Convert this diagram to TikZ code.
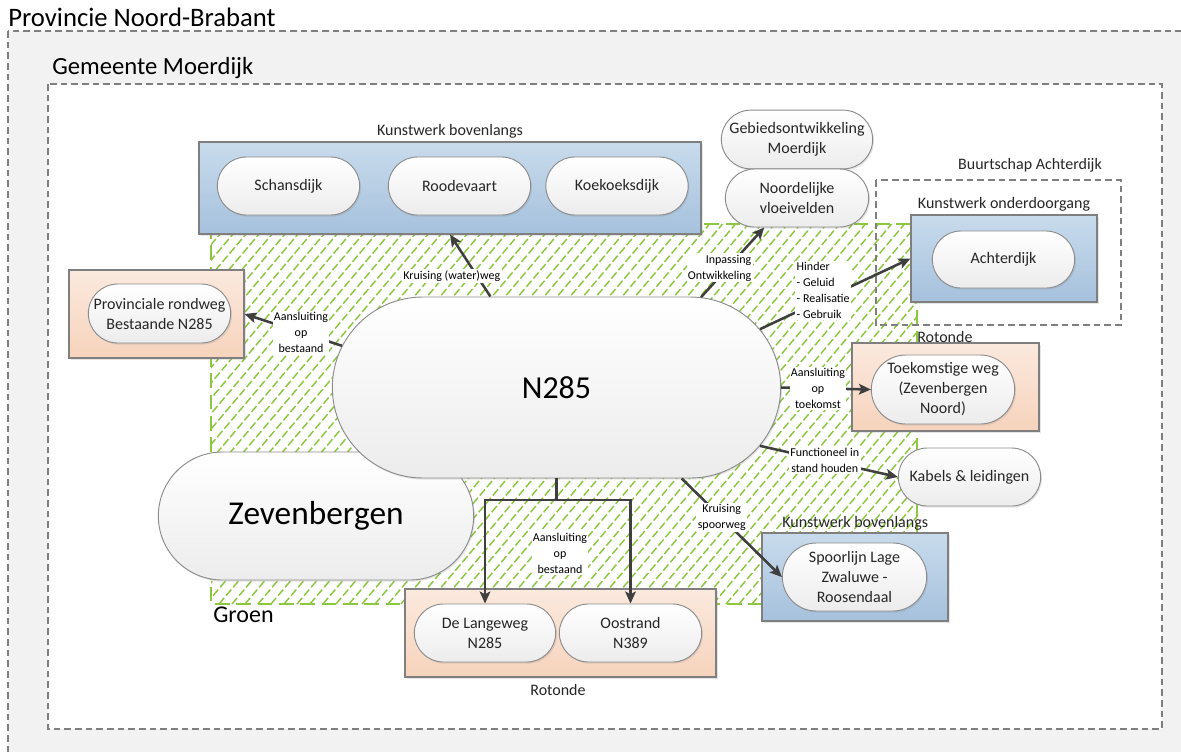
\documentclass[tikz,border=0pt]{standalone}
\usepackage{fontspec}
\setmainfont{Carlito}
\usetikzlibrary{shapes.misc,arrows.meta,shadows}
\definecolor{provgray}{HTML}{F2F2F2}
\definecolor{framegray}{HTML}{7F7F7F}
\definecolor{pillline}{HTML}{8C8C8C}
\definecolor{pillbot}{HTML}{ECECEC}
\definecolor{bluetop}{HTML}{C8DBEC}
\definecolor{bluebot}{HTML}{A6C1DD}
\definecolor{salmontop}{HTML}{FBE9DE}
\definecolor{salmonbot}{HTML}{F6D3BC}
\definecolor{groen}{HTML}{8DC63F}
\definecolor{arrowgray}{HTML}{3F3F3F}
\definecolor{textdark}{HTML}{262626}
\begin{document}
\begin{tikzpicture}[x=0.75pt,y=-0.75pt,
    frame/.style={draw=framegray, line width=0.8pt, dash pattern=on 5pt off 3pt},
    heading/.style={font=\fontsize{18.5}{21}\selectfont, text=black, inner sep=0pt},
    boxlabel/.style={font=\fontsize{12}{14}\selectfont, text=textdark, inner sep=0pt},
    pill/.style={rounded rectangle, draw=pillline, line width=0.7pt, top color=white,
        bottom color=pillbot, align=center, text=textdark, inner sep=1pt,
        font=\fontsize{12}{15}\selectfont, minimum width=108.75pt, minimum height=43.5pt,
        drop shadow={shadow xshift=1pt, shadow yshift=-1.2pt, opacity=0.2}},
    bigpill/.style={pill, text=black, font=\fontsize{24}{28}\selectfont},
    bluebox/.style={rectangle, draw=framegray, line width=0.8pt, top color=bluetop,
        bottom color=bluebot, inner sep=0pt,
        drop shadow={shadow xshift=1.2pt, shadow yshift=-1.2pt, opacity=0.2}},
    salmonbox/.style={bluebox, top color=salmontop, bottom color=salmonbot},
    conn/.style={draw=arrowgray, line width=1.9pt, -{Stealth[length=9pt, width=8pt, inset=2pt]}},
    lbl/.style={fill=white, align=center, text=black, inner sep=1pt,
        font=\fontsize{9}{12}\selectfont}]
  \useasboundingbox (0,0) rectangle (1181,751);
  \clip (0,0) rectangle (1181,751);
  \fill[white] (0,0) rectangle (1181,751);

  % Provincie en gemeente
  \draw[frame, fill=provgray] (8,31) rectangle (1200,770);
  \node[heading, font=\fontsize{20}{23}\selectfont, anchor=base west] (provincie) at (8,26) {Provincie Noord-Brabant};
  \draw[frame, fill=white] (48,84) rectangle (1162,729);
  \node[heading, anchor=base west] (gemeente) at (52,74) {Gemeente Moerdijk};

  % Groen
  \begin{scope}
    \clip (211,224) rectangle (917,604);
    \foreach \i in {-330,-317,...,710}
      \draw[groen, line width=1.1pt, dash pattern=on 6pt off 2.2pt] (211+\i,604) -- ++(330,-390);
  \end{scope}
  \draw[groen, line width=2pt, dash pattern=on 11pt off 5pt] (211,224) rectangle (917,604);
  \node[heading, font=\fontsize{18}{21}\selectfont, anchor=base west] (groenlbl) at (213,622) {Groen};

  % Kunstwerk bovenlangs (boven)
  \node[bluebox, minimum width=376.5pt, minimum height=69pt] (kwtop) at (450,188) {};
  \node[boxlabel, anchor=base] (kwtoplbl) at (450,135) {Kunstwerk bovenlangs};
  \node[pill] (schansdijk) at (288.5,186) {Schansdijk};
  \node[pill] (roodevaart) at (459.5,186) {Roodevaart};
  \node[pill] (koekoeksdijk) at (617,186) {Koekoeksdijk};

  % Gebiedsontwikkeling
  \node[pill, minimum width=115.5pt, minimum height=44pt] (gebied) at (797,139.5) {Gebiedsontwikkeling\\Moerdijk};
  \node[pill, minimum width=109.5pt] (vloeivelden) at (797,198) {Noordelijke\\vloeivelden};

  % Buurtschap Achterdijk
  \draw[frame] (876,180) rectangle (1121,325);
  \node[boxlabel, anchor=base] (buurtlbl) at (1030,169) {Buurtschap Achterdijk};
  \node[bluebox, minimum width=139.5pt, minimum height=65.25pt] (kwonder) at (1004,258.5) {};
  \node[boxlabel, anchor=base] (kwonderlbl) at (1004,208) {Kunstwerk onderdoorgang};
  \node[pill, minimum height=42.75pt] (achterdijk) at (1003.5,259.5) {Achterdijk};

  % Provinciale rondweg
  \node[salmonbox, minimum width=131.25pt, minimum height=66pt] (provbox) at (156.5,314) {};
  \node[pill, minimum height=44.25pt] (rondweg) at (159.5,313.5) {Provinciale rondweg\\Bestaande N285};

  % Zevenbergen en N285
  \node[bigpill, font=\fontsize{25}{29}\selectfont, minimum width=238.5pt, minimum height=96pt] (zevenbergen) at (316,516) {Zevenbergen};
  \node[bigpill, minimum width=338.25pt, minimum height=135.75pt] (n285) at (556.5,387.5) {N285};

  % Rotonde rechts
  \node[salmonbox, minimum width=140.25pt, minimum height=66pt] (rotbox) at (945.5,387) {};
  \node[boxlabel, anchor=base west] (rotlbl) at (917,342) {Rotonde};
  \node[pill, minimum width=109.5pt, minimum height=51.75pt] (toekomst) at (943,389.5) {Toekomstige weg\\(Zevenbergen\\Noord)};

  % Kabels
  \node[pill] (kabels) at (969.5,477) {Kabels \& leidingen};

  % Kunstwerk bovenlangs (spoor)
  \node[bluebox, minimum width=139.5pt, minimum height=66pt] (kwspoor) at (855,577) {};
  \node[boxlabel, anchor=base west] (kwspoorlbl) at (782,527) {Kunstwerk bovenlangs};
  \node[pill, minimum width=110.25pt, minimum height=51pt] (spoorlijn) at (854.5,577) {Spoorlijn Lage\\Zwaluwe -\\Roosendaal};

  % Rotonde onder
  \node[salmonbox, minimum width=233.25pt, minimum height=66pt] (rotonder) at (560.5,633) {};
  \node[boxlabel, anchor=base] (rotonderlbl) at (558,695) {Rotonde};
  \node[pill, minimum width=108pt] (langeweg) at (485,633) {De Langeweg\\N285};
  \node[pill] (oostrand) at (630.5,633) {Oostrand\\N389};

  % verbindingen
  \draw[conn] (n285.126) -- node[lbl, pos=0.33, xshift=-19pt] {Kruising (water)weg} (kwtop.south);
  \draw[conn] (n285.32.5) -- node[lbl, pos=0.42, xshift=-6pt, align=right] {Inpassing\\Ontwikkeling} (vloeivelden.222);
  \draw[conn] (n285.16.7) -- node[lbl, pos=0.42, yshift=7pt, align=left] {Hinder\\- Geluid\\- Realisatie\\- Gebruik} (kwonder.west);
  \draw[conn] (n285.169) -- node[lbl, pos=0.42] {Aansluiting\\op\\bestaand} (provbox.east);
  \draw[conn] (n285.east) -- node[lbl, pos=0.41] {Aansluiting\\op\\toekomst} (toekomst.west);
  \draw[conn] (n285.-16) -- node[lbl, pos=0.47] {Functioneel in\\stand houden} (kabels.west);
  \draw[conn] (n285.-36) -- node[lbl, pos=0.4] {Kruising\\spoorweg} (spoorlijn.west);
  \coordinate (split) at (556.5,500);
  \draw[draw=arrowgray, line width=1.9pt] (n285.south) -- (split);
  \draw[conn] (split) -| (langeweg.north);
  \draw[conn] (split) -| (oostrand.north);
  \node[lbl] (bestaandlbl) at (560,553) {Aansluiting\\op\\bestaand};
\end{tikzpicture}
\end{document}
